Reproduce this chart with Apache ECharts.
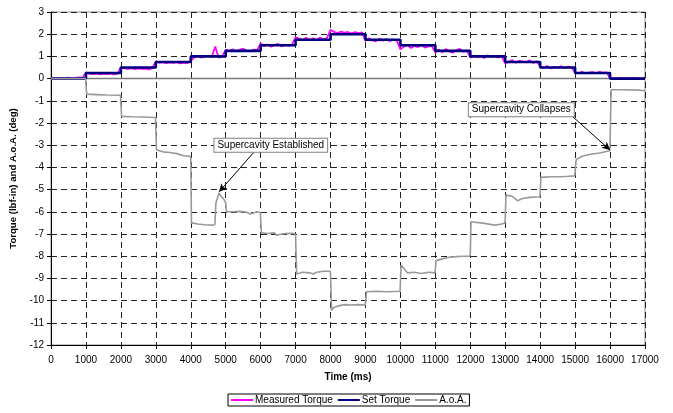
<!DOCTYPE html>
<html>
<head>
<meta charset="utf-8">
<script src="https://cdn.jsdelivr.net/npm/echarts@6/dist/echarts.min.js"></script>
<style>
  html, body { margin: 0; padding: 0; background: #fff; }
  #chart { width: 673px; height: 413px; }
</style>
</head>
<body>
<div id="chart"></div>
<script>
// Set torque command, one level per 1000 ms step (lbf-in)
const setTorqueTimes = [0, 1000, 2000, 3000, 4000, 5000, 6000, 7000, 8000, 9000,
  10000, 11000, 12000, 13000, 14000, 15000, 16000, 17000];
const setTorqueLevels = [0, 0.25, 0.5, 0.75, 1.0, 1.25, 1.5, 1.75, 2.0, 1.75,
  1.5, 1.25, 1.0, 0.75, 0.5, 0.25, 0, 0];

// Measured torque, sampled every 100 ms from 0 to 17000 ms (lbf-in)
const measuredStartMs = 0;
const measuredStepMs = 100;
const measuredTorque = [
  0.02, 0.03, 0.01, 0.03, 0.02, 0.04, 0.02, 0.03, 0.05, 0.03,
  0.28, 0.22, 0.20, 0.23, 0.19, 0.22, 0.20, 0.23, 0.19, 0.21,
  0.52, 0.46, 0.44, 0.47, 0.43, 0.46, 0.44, 0.45, 0.42, 0.47,
  0.78, 0.72, 0.74, 0.70, 0.73, 0.71, 0.74, 0.69, 0.72, 0.70,
  0.80, 0.96, 1.02, 0.95, 0.99, 1.03, 0.96, 1.45, 0.94, 1.00,
  1.30, 1.24, 1.32, 1.22, 1.30, 1.34, 1.26, 1.23, 1.31, 1.28,
  1.58, 1.46, 1.54, 1.44, 1.52, 1.56, 1.45, 1.53, 1.47, 1.55,
  1.86, 1.80, 1.74, 1.84, 1.73, 1.82, 1.72, 1.85, 1.76, 1.83,
  2.20, 2.10, 2.05, 2.12, 2.06, 2.10, 2.03, 2.09, 2.05, 2.08,
  1.70, 1.82, 1.72, 1.68, 1.80, 1.71, 1.78, 1.68, 1.76, 1.70,
  1.32, 1.44, 1.52, 1.38, 1.48, 1.42, 1.51, 1.40, 1.45, 1.47,
  1.18, 1.30, 1.20, 1.33, 1.22, 1.17, 1.28, 1.34, 1.21, 1.27,
  0.94, 1.04, 0.96, 1.02, 0.93, 1.05, 0.97, 1.03, 0.95, 1.02,
  0.68, 0.76, 0.83, 0.72, 0.80, 0.77, 0.73, 0.82, 0.70, 0.78,
  0.55, 0.48, 0.57, 0.46, 0.53, 0.49, 0.56, 0.47, 0.54, 0.50,
  0.28, 0.24, 0.30, 0.23, 0.27, 0.29, 0.24, 0.30, 0.26, 0.28,
  0.03, 0.00, 0.02, 0.03, 0.00, 0.02, 0.01, 0.03, 0.01, 0.00, 0.02
];

// Angle of attack (deg): sample times (ms) and values
const aoaTimes = [
  0, 500, 990, 1000, 1020, 1300, 1600, 1990,
  2000, 2020, 2300, 2600, 2990,
  3000, 3020, 3200, 3400, 3600, 3800, 3990,
  4000, 4020, 4200, 4400, 4600, 4690, 4720, 4780, 4810, 4870, 4950, 4990,
  5000, 5020, 5200, 5400, 5600, 5700, 5750, 5900, 5990,
  6000, 6020, 6200, 6400, 6450, 6500, 6700, 6900, 6990,
  7000, 7030, 7200, 7400, 7500, 7600, 7800, 7990,
  8000, 8030, 8100, 8200, 8400, 8600, 8800, 8990,
  9000, 9030, 9300, 9600, 9990,
  10000, 10020, 10100, 10200, 10400, 10600, 10800, 10990,
  11000, 11020, 11200, 11400, 11600, 11800, 11990,
  12000, 12020, 12400, 12700, 12900, 12990,
  13000, 13020, 13200, 13350, 13500, 13700, 13990,
  14000, 14020, 14300, 14600, 14800, 14990,
  15000, 15030, 15200, 15400, 15700, 15990,
  16000, 16030, 16400, 16800, 17000
];
const aoaValues = [
  0, 0, 0, -0.05, -0.70, -0.72, -0.74, -0.75,
  -0.80, -1.70, -1.72, -1.73, -1.75,
  -1.80, -3.20, -3.30, -3.33, -3.38, -3.48, -3.50,
  -3.60, -6.50, -6.55, -6.58, -6.60, -6.58, -5.60, -5.30, -5.15, -5.30, -5.45, -5.50,
  -5.60, -6.00, -6.00, -5.98, -6.02, -6.10, -6.02, -6.00, -6.03,
  -6.10, -6.95, -6.98, -6.95, -7.05, -6.98, -6.98, -6.97, -7.00,
  -7.10, -8.80, -8.72, -8.75, -8.80, -8.72, -8.68, -8.68,
  -8.80, -10.45, -10.30, -10.25, -10.18, -10.20, -10.18, -10.20,
  -10.10, -9.60, -9.58, -9.60, -9.58,
  -9.50, -8.40, -8.55, -8.75, -8.72, -8.78, -8.72, -8.75,
  -8.60, -8.20, -8.12, -8.05, -8.02, -8.00, -8.00,
  -7.90, -6.45, -6.52, -6.60, -6.55, -6.50,
  -6.30, -5.25, -5.30, -5.50, -5.40, -5.35, -5.32,
  -5.20, -4.45, -4.42, -4.42, -4.40, -4.38,
  -4.30, -3.65, -3.50, -3.42, -3.35, -3.25,
  -3.00, -0.50, -0.50, -0.52, -0.55
];

// Axis ranges
const xMin = 0, xMax = 17000, xStep = 1000;
const yMin = -12, yMax = 3, yStep = 1;

const FONT = '"Liberation Sans", Arial, sans-serif';

const setTorqueData = setTorqueTimes.map((t, i) => [t, setTorqueLevels[i]]);
const measuredData = measuredTorque.map((v, i) => [measuredStartMs + i * measuredStepMs, v]);
const aoaData = aoaTimes.map((t, i) => [t, aoaValues[i]]);

const chart = echarts.init(document.getElementById('chart'), null, { renderer: 'canvas' });

const calloutLabel = {
  show: true,
  position: 'inside',
  color: '#000',
  fontFamily: FONT,
  fontSize: 10,
  backgroundColor: '#fff',
  borderColor: '#808080',
  borderWidth: 1,
  padding: [2, 3, 1, 3]
};

chart.setOption({
  animation: false,
  backgroundColor: '#fff',
  textStyle: { fontFamily: FONT },
  grid: {
    left: 50, right: 28, top: 12, bottom: 68,
    show: true, borderColor: '#8c8c8c', borderWidth: 1, backgroundColor: 'transparent'
  },
  legend: {
    data: ['Measured Torque', 'Set Torque', 'A.o.A.'],
    left: 228, top: 394,
    orient: 'horizontal',
    icon: 'rect', itemWidth: 22, itemHeight: 2, itemGap: 5,
    padding: [1, 3, 1, 3],
    borderColor: '#000', borderWidth: 1,
    textStyle: { fontFamily: FONT, fontSize: 10, color: '#000', padding: [0, 0, 0, -3] }
  },
  xAxis: {
    type: 'value', min: xMin, max: xMax, interval: xStep,
    name: 'Time (ms)', nameLocation: 'middle', nameGap: 27,
    nameTextStyle: { fontFamily: FONT, fontSize: 10, fontWeight: 'bold', color: '#000' },
    axisLine: { onZero: false, lineStyle: { color: '#000', width: 1 } },
    axisTick: { show: true, length: 4, inside: false, lineStyle: { color: '#000' } },
    axisLabel: {
      fontFamily: FONT, fontSize: 10, color: '#000', margin: 10,
      showMinLabel: true, showMaxLabel: true,
      formatter: v => String(v)
    },
    splitLine: { show: true, lineStyle: { color: '#222', width: 1, type: [6, 4] } }
  },
  yAxis: {
    type: 'value', min: yMin, max: yMax, interval: yStep,
    name: 'Torque (lbf-in) and A.o.A. (deg)', nameLocation: 'middle', nameGap: 33,
    nameTextStyle: { fontFamily: FONT, fontSize: 9.6, fontWeight: 'bold', color: '#000' },
    axisLine: { show: true, onZero: false, lineStyle: { color: '#000', width: 1 } },
    axisTick: { show: true, length: 4, inside: false, lineStyle: { color: '#000' } },
    axisLabel: { fontFamily: FONT, fontSize: 10, color: '#000', margin: 7 },
    splitLine: { show: true, lineStyle: { color: '#222', width: 1, type: [6, 4] } }
  },
  series: [
    {
      // zero reference line across the plot
      name: 'zero',
      type: 'line',
      data: [[xMin, 0], [xMax, 0]],
      symbol: 'none',
      silent: true,
      lineStyle: { color: '#7a7a7a', width: 1.5 },
      z: 1
    },
    {
      name: 'Measured Torque',
      type: 'line',
      data: measuredData,
      symbol: 'none',
      itemStyle: { color: '#ff00ff' },
      lineStyle: { color: '#ff00ff', width: 1.8 },
      z: 2
    },
    {
      name: 'Set Torque',
      type: 'line',
      step: 'end',
      data: setTorqueData,
      symbol: 'none',
      itemStyle: { color: '#000080' },
      lineStyle: { color: '#000080', width: 2.6 },
      z: 3
    },
    {
      name: 'A.o.A.',
      type: 'line',
      data: aoaData,
      symbol: 'none',
      itemStyle: { color: '#999999' },
      lineStyle: { color: '#999999', width: 1.6 },
      z: 4,
      markLine: {
        silent: true,
        symbol: ['none', 'arrow'],
        symbolSize: [6, 8],
        label: { show: false },
        lineStyle: { color: '#000', width: 1, type: 'solid' },
        data: [
          [{ coord: [5800, -3.33] }, { coord: [4810, -5.1] }],
          [{ coord: [14900, -1.67] }, { coord: [16000, -3.22] }]
        ]
      },
      markPoint: {
        silent: true,
        symbol: 'rect',
        symbolSize: 1,
        itemStyle: { color: 'transparent' },
        data: [
          { coord: [6290, -3.0], label: Object.assign({ formatter: 'Supercavity Established' }, calloutLabel) },
          { coord: [13460, -1.4], label: Object.assign({ formatter: 'Supercavity Collapses' }, calloutLabel) }
        ]
      }
    }
  ]
});
</script>
</body>
</html>
